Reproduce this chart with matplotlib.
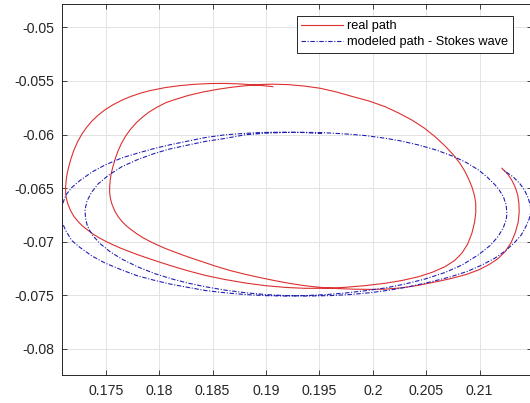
import matplotlib
matplotlib.use("Agg")
import matplotlib.pyplot as plt

plt.rcParams['font.family'] = ['Liberation Sans', 'DejaVu Sans']

# measured particle path (red) and Stokes-wave model path (blue), x / y in metres
real_x = [0.19064, 0.18964, 0.18851, 0.18739, 0.18617, 0.18477, 0.18336, 0.18196, 0.18055, 0.17915,
          0.17821, 0.17728, 0.17650, 0.17568, 0.17493, 0.17428, 0.17372, 0.17320, 0.17275, 0.17236,
          0.17203, 0.17177, 0.17156, 0.17140, 0.17130, 0.17125, 0.17125, 0.17133, 0.17149, 0.17173,
          0.17203, 0.17241, 0.17283, 0.17330, 0.17381, 0.17442, 0.17503, 0.17568, 0.17643, 0.17723,
          0.17807, 0.17896, 0.17990, 0.18118, 0.18271, 0.18430, 0.18617, 0.18804, 0.18992, 0.19188,
          0.19366, 0.19553, 0.19741, 0.19928, 0.20115, 0.20274, 0.20427, 0.20555, 0.20677, 0.20766,
          0.20833, 0.20888, 0.20927, 0.20953, 0.20964, 0.20963, 0.20950, 0.20928, 0.20897, 0.20860,
          0.20813, 0.20755, 0.20672, 0.20583, 0.20480, 0.20365, 0.20242, 0.20115, 0.19965, 0.19816,
          0.19661, 0.19507, 0.19357, 0.19207, 0.19057, 0.18926, 0.18804, 0.18683, 0.18552, 0.18411,
          0.18273, 0.18121, 0.18062, 0.17980, 0.17905, 0.17840, 0.17784, 0.17732, 0.17687, 0.17648,
          0.17615, 0.17589, 0.17568, 0.17552, 0.17542, 0.17537, 0.17537, 0.17545, 0.17561, 0.17585,
          0.17615, 0.17653, 0.17695, 0.17742, 0.17793, 0.17854, 0.17915, 0.17980, 0.18055, 0.18135,
          0.18219, 0.18308, 0.18402, 0.18523, 0.18664, 0.18804, 0.18945, 0.19085, 0.19226, 0.19366,
          0.19507, 0.19656, 0.19816, 0.19975, 0.20115, 0.20274, 0.20427, 0.20583, 0.20740, 0.20874,
          0.20989, 0.21089, 0.21169, 0.21239, 0.21295, 0.21334, 0.21361, 0.21370, 0.21367, 0.21356,
          0.21332, 0.21300, 0.21262, 0.21208]
real_y = [-0.05553, -0.05543, -0.05534, -0.05527, -0.05523, -0.05524, -0.05531, -0.05543, -0.05562, -0.05590,
          -0.05615, -0.05647, -0.05680, -0.05722, -0.05769, -0.05820, -0.05873, -0.05934, -0.05999, -0.06069,
          -0.06144, -0.06218, -0.06293, -0.06358, -0.06424, -0.06489, -0.06545, -0.06601, -0.06657, -0.06713,
          -0.06764, -0.06811, -0.06853, -0.06890, -0.06927, -0.06965, -0.06997, -0.07028, -0.07061, -0.07092,
          -0.07123, -0.07154, -0.07185, -0.07226, -0.07271, -0.07313, -0.07352, -0.07384, -0.07409, -0.07426,
          -0.07434, -0.07434, -0.07425, -0.07409, -0.07387, -0.07361, -0.07326, -0.07285, -0.07232, -0.07174,
          -0.07107, -0.07021, -0.06921, -0.06815, -0.06722, -0.06638, -0.06563, -0.06489, -0.06414, -0.06340,
          -0.06265, -0.06190, -0.06102, -0.06020, -0.05938, -0.05864, -0.05799, -0.05740, -0.05687, -0.05647,
          -0.05603, -0.05568, -0.05547, -0.05534, -0.05530, -0.05534, -0.05545, -0.05558, -0.05577, -0.05603,
          -0.05635, -0.05682, -0.05703, -0.05745, -0.05790, -0.05841, -0.05892, -0.05951, -0.06013, -0.06081,
          -0.06153, -0.06226, -0.06298, -0.06361, -0.06424, -0.06489, -0.06545, -0.06601, -0.06657, -0.06713,
          -0.06764, -0.06811, -0.06853, -0.06890, -0.06927, -0.06965, -0.06997, -0.07028, -0.07061, -0.07092,
          -0.07123, -0.07154, -0.07185, -0.07226, -0.07268, -0.07303, -0.07334, -0.07363, -0.07389, -0.07410,
          -0.07425, -0.07436, -0.07442, -0.07444, -0.07442, -0.07429, -0.07406, -0.07375, -0.07341, -0.07305,
          -0.07263, -0.07212, -0.07159, -0.07091, -0.07007, -0.06913, -0.06815, -0.06722, -0.06638, -0.06563,
          -0.06489, -0.06424, -0.06368, -0.06314]

model_x = [0.19525, 0.19319, 0.19132, 0.18945, 0.18758, 0.18617, 0.18430, 0.18273, 0.18102, 0.17962,
           0.17802, 0.17650, 0.17493, 0.17372, 0.17259, 0.17182, 0.17128, 0.17096, 0.17082,
           0.17096, 0.17128, 0.17182, 0.17259, 0.17372, 0.17493, 0.17650, 0.17802, 0.17962, 0.18102,
           0.18273, 0.18430, 0.18617, 0.18804, 0.18992, 0.19170, 0.19366, 0.19553, 0.19741, 0.19928,
           0.20115, 0.20302, 0.20490, 0.20677, 0.20836, 0.20986, 0.21098, 0.21173, 0.21220, 0.21248,
           0.21255,
           0.21248, 0.21223, 0.21183, 0.21145, 0.21070, 0.20989, 0.20874, 0.20755, 0.20593, 0.20427,
           0.20256, 0.20115, 0.19928, 0.19741, 0.19553, 0.19366, 0.19179, 0.18992, 0.18804, 0.18617,
           0.18430, 0.18273, 0.18102, 0.17962, 0.17802, 0.17650, 0.17524, 0.17428, 0.17367, 0.17325,
           0.17306,
           0.17311, 0.17325, 0.17344, 0.17381, 0.17447, 0.17540, 0.17650, 0.17802, 0.17962, 0.18121,
           0.18273, 0.18430, 0.18617, 0.18804, 0.18992, 0.19179, 0.19392, 0.19600, 0.19788, 0.19975,
           0.20162, 0.20349, 0.20537, 0.20724, 0.20883, 0.21023, 0.21145, 0.21239, 0.21323, 0.21389,
           0.21435, 0.21464, 0.21478,
           0.21473, 0.21454, 0.21421, 0.21375, 0.21314, 0.21248, 0.21211]
model_y = [-0.05989, -0.05980, -0.05978, -0.05981, -0.05992, -0.06002, -0.06028, -0.06060, -0.06095, -0.06128,
           -0.06172, -0.06218, -0.06284, -0.06349, -0.06428, -0.06494, -0.06563, -0.06647, -0.06741,
           -0.06829, -0.06899, -0.06988, -0.07053, -0.07133, -0.07198, -0.07263, -0.07319, -0.07361, -0.07394,
           -0.07426, -0.07454, -0.07476, -0.07492, -0.07502, -0.07506, -0.07502, -0.07493, -0.07478, -0.07457,
           -0.07431, -0.07394, -0.07347, -0.07286, -0.07216, -0.07123, -0.07035, -0.06951, -0.06871, -0.06797,
           -0.06741,
           -0.06657, -0.06582, -0.06517, -0.06470, -0.06396, -0.06330, -0.06260, -0.06204, -0.06144, -0.06097,
           -0.06058, -0.06034, -0.06009, -0.05994, -0.05983, -0.05979, -0.05980, -0.05987, -0.06002, -0.06036,
           -0.06064, -0.06097, -0.06134, -0.06174, -0.06232, -0.06300, -0.06381, -0.06461, -0.06540, -0.06619,
           -0.06703,
           -0.06778, -0.06839, -0.06884, -0.06944, -0.07017, -0.07092, -0.07161, -0.07235, -0.07298, -0.07347,
           -0.07386, -0.07419, -0.07451, -0.07475, -0.07492, -0.07502, -0.07506, -0.07502, -0.07492, -0.07475,
           -0.07450, -0.07417, -0.07375, -0.07328, -0.07277, -0.07216, -0.07151, -0.07086, -0.07011, -0.06937,
           -0.06853, -0.06787, -0.06722,
           -0.06657, -0.06591, -0.06521, -0.06456, -0.06395, -0.06349, -0.06326]

x_ticks = [0.175, 0.18, 0.185, 0.19, 0.195, 0.2, 0.205, 0.21]
x_tick_labels = ['0.175', '0.18', '0.185', '0.19', '0.195', '0.2', '0.205', '0.21']
y_ticks = [-0.08, -0.075, -0.07, -0.065, -0.06, -0.055, -0.05]
y_tick_labels = ['-0.08', '-0.075', '-0.07', '-0.065', '-0.06', '-0.055', '-0.05']

fig = plt.figure(figsize=(5.30, 4.03), dpi=100)
ax = fig.add_axes([0.1164, 0.0707, 0.8874, 0.9194])

ax.plot(real_x, real_y, color='#dd3030', linewidth=0.8, label='real path')
ax.plot(model_x, model_y, color='#2020b4', linewidth=0.8,
        linestyle=(0, (4, 1.5, 1, 1.5)), label='modeled path - Stokes wave')

ax.set_xlim(0.17088, 0.21490)
ax.set_ylim(-0.08238, -0.04782)
ax.set_xticks(x_ticks)
ax.set_xticklabels(x_tick_labels)
ax.set_yticks(y_ticks)
ax.set_yticklabels(y_tick_labels)

ax.grid(True, color='#e3e3e3', linewidth=0.7)
ax.set_axisbelow(True)
for s in ax.spines.values():
    s.set_color('#262626')
    s.set_linewidth(0.7)
ax.tick_params(direction='in', length=3.5, width=0.6, colors='#262626',
               top=True, right=True, labelsize=10.2)
ax.tick_params(axis='x', pad=6.5)
ax.tick_params(axis='y', pad=5.5)

leg = ax.legend(loc='upper right', bbox_to_anchor=(0.959, 0.9676), borderaxespad=0,
                fontsize=9.2, handlelength=3.3, handletextpad=0.3, labelspacing=0.3,
                borderpad=0.35, fancybox=False, framealpha=1, edgecolor='#262626')
leg.get_frame().set_linewidth(0.7)

plt.savefig('out.png', dpi=100)
